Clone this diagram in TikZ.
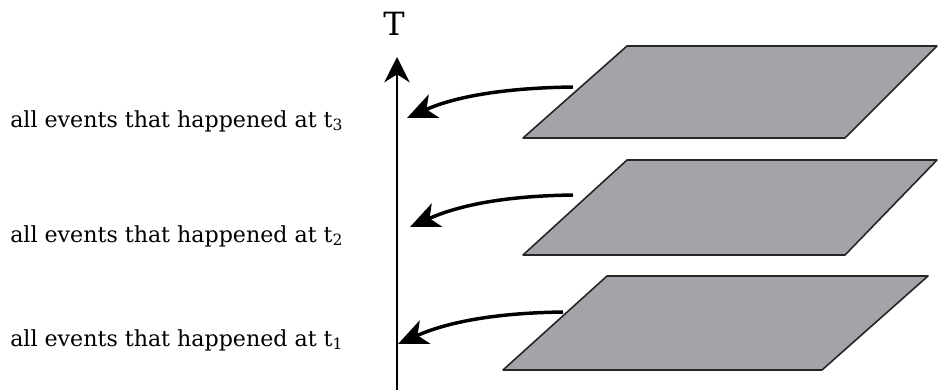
\documentclass[tikz,border=0pt]{standalone}
\usepackage{fontspec}
\setmainfont{DejaVu Serif}
\usetikzlibrary{arrows.meta}
\definecolor{planegray}{RGB}{163,164,169}

\begin{document}
\begin{tikzpicture}[x=0.75pt, y=-0.75pt]
\tikzstyle{plane}=[draw=black!85, line width=1.2pt, fill=planegray, line join=round]
\tikzstyle{event}=[anchor=base west, inner sep=0pt, font=\fontsize{16.6}{18}\selectfont]
\tikzstyle{pointer}=[line width=2.6pt, -{Stealth[length=22pt,width=19pt,inset=6pt]}]
\useasboundingbox (0,0) rectangle (938,390);

% time axis
\coordinate (tbase) at (397,390);
\coordinate (ttop) at (397,57);
\draw[line width=1.5pt, -{Stealth[length=19pt,width=19pt,inset=6pt]}] (tbase) -- (ttop);
\node[inner sep=0pt, font=\fontsize{24}{26}\selectfont] (tlabel) at (394,24) {T};

% event planes
\draw[plane] (627,46) -- (937,46) -- (845,138) -- (523,138) -- cycle;
\draw[plane] (627,160) -- (937,160) -- (845,255) -- (523,255) -- cycle;
\draw[plane] (607,276) -- (928,276) -- (822,370) -- (503,370) -- cycle;

% labels
\node[event] (ev3) at (10,127) {all events that happened at t\textsubscript{3}};
\node[event] (ev2) at (10,242) {all events that happened at t\textsubscript{2}};
\node[event] (ev1) at (10,346) {all events that happened at t\textsubscript{1}};

% arrows from planes to axis
\coordinate (p3) at (573,87);
\coordinate (p2) at (573,195);
\coordinate (p1) at (563,312);
\coordinate (a3) at (407,118);
\coordinate (a2) at (410,227);
\coordinate (a1) at (398,344);
\draw[pointer] (p3) .. controls +(-75,1) and +(45,-20) .. (a3);
\draw[pointer] (p2) .. controls +(-75,1) and +(45,-20) .. (a2);
\draw[pointer] (p1) .. controls +(-75,1) and +(45,-20) .. (a1);
\end{tikzpicture}
\end{document}
